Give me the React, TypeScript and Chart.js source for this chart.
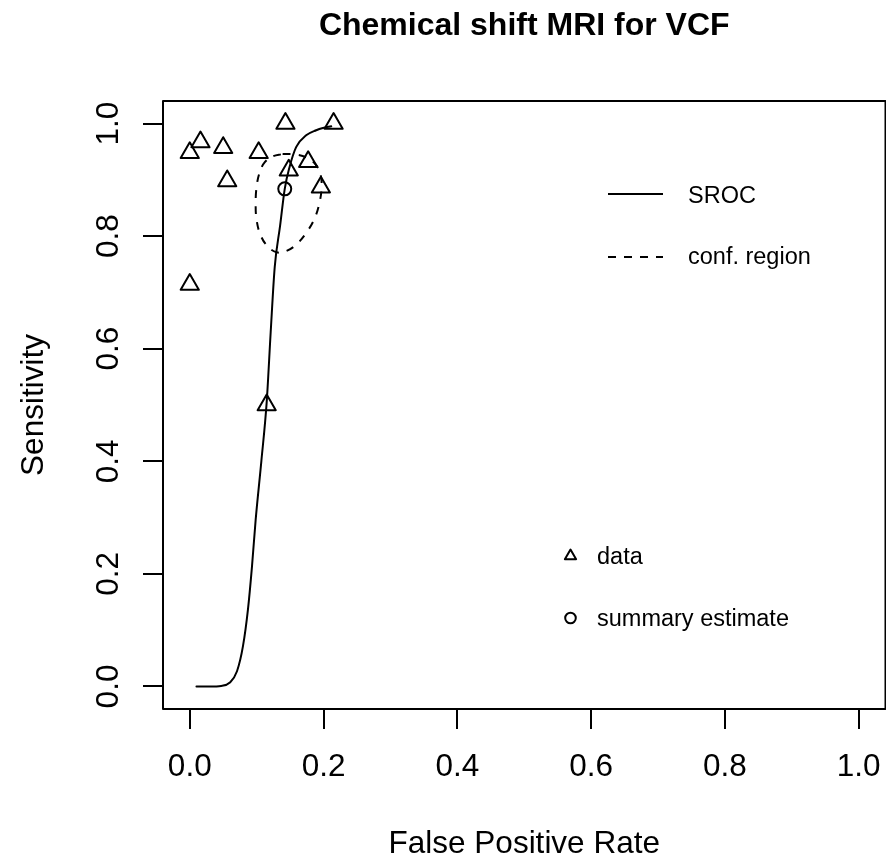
import React, { useEffect, useRef } from 'react';
import { Chart, registerables } from 'chart.js';

Chart.register(...registerables);

// ---- data ----
const studyFPR = [0.0, 0.016, 0.05, 0.056, 0.0, 0.103, 0.143, 0.215, 0.148, 0.177, 0.196, 0.115];
const studySens = [0.948, 0.967, 0.957, 0.898, 0.714, 0.948, 1.0, 1.0, 0.917, 0.932, 0.887, 0.5];

const summaryFPR = [0.142];
const summarySens = [0.884];

const srocFPR = [0.01, 0.03, 0.047, 0.06, 0.0706, 0.0796, 0.087, 0.093, 0.0985, 0.107, 0.115, 0.121, 0.127, 0.135, 0.142, 0.149, 0.159, 0.174, 0.189, 0.199, 0.2115];
const srocSens = [0.0, 0.0, 0.001, 0.007, 0.027, 0.072, 0.137, 0.213, 0.296, 0.4, 0.505, 0.63, 0.745, 0.818, 0.884, 0.922, 0.958, 0.979, 0.988, 0.992, 0.995];

const confFPR = [0.1388, 0.1582, 0.1761, 0.1881, 0.1955, 0.197, 0.194, 0.1866, 0.1746, 0.1597, 0.1433, 0.1299, 0.1164, 0.106, 0.1, 0.0985, 0.1, 0.1045, 0.1119, 0.1239, 0.1388];
const confSens = [0.9459, 0.945, 0.9388, 0.9273, 0.9096, 0.8865, 0.8599, 0.8316, 0.8067, 0.7855, 0.773, 0.7713, 0.7819, 0.8014, 0.828, 0.8582, 0.8883, 0.9131, 0.9309, 0.9415, 0.9459];

const tickValues = [0, 0.2, 0.4, 0.6, 0.8, 1.0];
const tickLabels = ['0.0', '0.2', '0.4', '0.6', '0.8', '1.0'];

const titleText = 'Chemical shift MRI for VCF';
const xTitle = 'False Positive Rate';
const yTitle = 'Sensitivity';
const lineLegend = ['SROC', 'conf. region'];
const pointLegend = ['data', 'summary estimate'];

const FONT = '"Liberation Sans", Arial, Helvetica, sans-serif';
const AXIS_SIZE = 31.5;

const toXY = (xs: number[], ys: number[]) => xs.map((x, i) => ({ x, y: ys[i] }));

const rPlugin = {
  id: 'rstyle',
  beforeDatasetsDraw(chart: any) {
    chart.ctx.lineJoin = 'round';
  },
  afterDraw(chart: any) {
    const { ctx, chartArea: ca, scales } = chart;
    ctx.save();
    ctx.strokeStyle = '#000';
    ctx.fillStyle = '#000';
    ctx.lineWidth = 2;
    ctx.lineJoin = 'round';
    // box
    ctx.strokeRect(ca.left, ca.top, ca.right - ca.left, ca.bottom - ca.top);

    // title
    ctx.font = `bold 32px ${FONT}`;
    ctx.textAlign = 'center';
    ctx.textBaseline = 'alphabetic';
    ctx.fillText(titleText, (ca.left + ca.right) / 2, 35);

    // y tick labels (rotated, R style)
    ctx.font = `${AXIS_SIZE}px ${FONT}`;
    const ys = scales.y;
    tickValues.forEach((v, i) => {
      const py = ys.getPixelForValue(v);
      ctx.save();
      ctx.translate(ca.left - 45, py);
      ctx.rotate(-Math.PI / 2);
      ctx.textAlign = 'center';
      ctx.textBaseline = 'alphabetic';
      ctx.fillText(tickLabels[i], 0, 0);
      ctx.restore();
    });

    // legends
    ctx.font = `23.5px ${FONT}`;
    ctx.textAlign = 'left';
    ctx.textBaseline = 'alphabetic';
    // line legend
    ctx.beginPath();
    ctx.moveTo(608, 194);
    ctx.lineTo(663, 194);
    ctx.stroke();
    ctx.fillText(lineLegend[0], 688, 202.5);
    ctx.save();
    ctx.setLineDash([8, 8]);
    ctx.beginPath();
    ctx.moveTo(608, 257);
    ctx.lineTo(663, 257);
    ctx.stroke();
    ctx.restore();
    ctx.fillText(lineLegend[1], 688, 264);

    // point legend
    const tx = 570.5, ty = 556, tr = 6.5;
    ctx.beginPath();
    for (let k = 0; k < 3; k++) {
      const a = (k * 2 * Math.PI) / 3;
      const px = tx + Math.sin(a) * tr;
      const py = ty - Math.cos(a) * tr;
      if (k === 0) ctx.moveTo(px, py);
      else ctx.lineTo(px, py);
    }
    ctx.closePath();
    ctx.stroke();
    ctx.fillText(pointLegend[0], 597, 563.5);

    ctx.beginPath();
    ctx.arc(570.5, 618, 5.3, 0, Math.PI * 2);
    ctx.stroke();
    ctx.fillText(pointLegend[1], 597, 625.5);

    ctx.restore();
  },
};

// Chart.js reserves (point radius + border) on every side for point overflow;
// the canvas is made that much wider so the plot box ends at the window edge.
const CANVAS_W = 898;
const CANVAS_H = 861;

export default function App() {
  const ref = useRef<HTMLCanvasElement | null>(null);

  useEffect(() => {
    if (!ref.current) return;
    const commonGrid = {
      display: true,
      drawOnChartArea: false,
      drawTicks: true,
      tickLength: 20,
      lineWidth: 2,
      color: '#000',
    };
    const chart = new Chart(ref.current, {
      type: 'scatter',
      data: {
        datasets: [
          {
            label: 'SROC',
            data: toXY(srocFPR, srocSens),
            showLine: true,
            borderColor: '#000',
            borderWidth: 2,
            pointRadius: 0,
            cubicInterpolationMode: 'monotone',
            fill: false,
            borderCapStyle: 'round',
            borderJoinStyle: 'round',
          } as any,
          {
            label: 'conf. region',
            data: toXY(confFPR, confSens),
            showLine: true,
            borderColor: '#000',
            borderWidth: 2,
            borderDash: [8, 8],
            pointRadius: 0,
            tension: 0.4,
            fill: false,
          } as any,
          {
            label: 'data',
            data: toXY(studyFPR, studySens),
            showLine: false,
            pointStyle: 'triangle',
            pointRadius: 10.5,
            pointBorderWidth: 2,
            pointBorderColor: '#000',
            pointBackgroundColor: 'rgba(0,0,0,0)',
          } as any,
          {
            label: 'summary estimate',
            data: toXY(summaryFPR, summarySens),
            showLine: false,
            pointStyle: 'circle',
            pointRadius: 6.5,
            pointBorderWidth: 2,
            pointBorderColor: '#000',
            pointBackgroundColor: 'rgba(0,0,0,0)',
          } as any,
        ],
      },
      options: {
        animation: false,
        responsive: false,
        events: [],
        layout: { padding: { top: 101, left: 0, right: 0, bottom: 0 } },
        plugins: {
          legend: { display: false },
          tooltip: { enabled: false },
          title: { display: false },
        },
        scales: {
          x: {
            type: 'linear',
            position: 'bottom',
            min: -0.04,
            max: 1.04,
            afterBuildTicks: (s: any) => {
              s.ticks = tickValues.map((v) => ({ value: v }));
            },
            afterFit: (s: any) => {
              s.height = 152;
              s.paddingLeft = 0;
              s.paddingRight = 0;
            },
            ticks: {
              autoSkip: false,
              maxRotation: 0,
              minRotation: 0,
              padding: 23,
              color: '#000',
              font: { family: FONT, size: AXIS_SIZE, lineHeight: 1 },
              callback: (v: any) => {
                const i = tickValues.indexOf(Number(v));
                return i >= 0 ? tickLabels[i] : Number(v).toFixed(1);
              },
            },
            grid: commonGrid,
            border: { display: false },
            title: {
              display: true,
              text: xTitle,
              color: '#000',
              font: { family: FONT, size: AXIS_SIZE, lineHeight: 1 },
              padding: { top: 0, bottom: 1 },
            },
          },
          y: {
            type: 'linear',
            position: 'left',
            min: -0.04,
            max: 1.04,
            afterBuildTicks: (s: any) => {
              s.ticks = tickValues.map((v) => ({ value: v }));
            },
            afterFit: (s: any) => {
              s.width = 163;
              s.paddingTop = 0;
              s.paddingBottom = 0;
            },
            ticks: { display: false },
            grid: commonGrid,
            border: { display: false },
            title: {
              display: true,
              text: yTitle,
              color: '#000',
              font: { family: FONT, size: AXIS_SIZE, lineHeight: 1 },
              padding: { top: 18.5, bottom: 0 },
            },
          },
        },
      } as any,
      plugins: [rPlugin],
    });
    return () => chart.destroy();
  }, []);

  return (
    <div style={{ position: 'absolute', left: 0, top: 0, width: 886, height: 861, overflow: 'hidden', background: '#fff' }}>
      <canvas ref={ref} width={CANVAS_W} height={CANVAS_H} style={{ display: 'block', width: CANVAS_W, height: CANVAS_H }} />
    </div>
  );
}
